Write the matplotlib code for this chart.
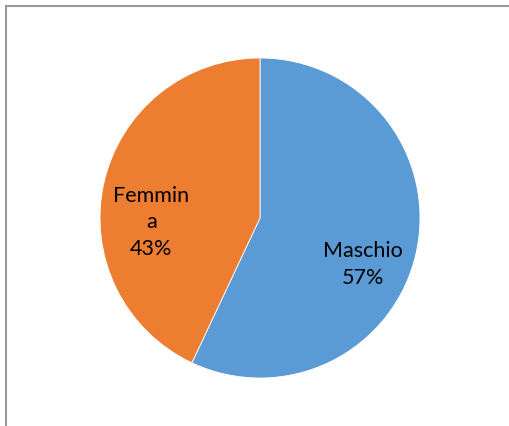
import matplotlib.pyplot as plt
from matplotlib.lines import Line2D

plt.rcParams['font.family'] = ['Lato', 'DejaVu Sans']

categorie = ['Maschio', 'Femmina']
valori = [57, 43]
colori = ['#5B9BD5', '#ED7D31']
etichette = ['Maschio\n57%', 'Femmin\na\n43%']

fig = plt.figure(figsize=(5.1, 4.27), dpi=100)
ax = fig.add_axes([100 / 510, 48 / 427, 320 / 510, 320 / 427])

ax.pie(valori, colors=colori, startangle=90, counterclock=False,
       wedgeprops=dict(edgecolor='white', linewidth=0.6))
ax.set_xlim(-1, 1)
ax.set_ylim(-1, 1)
ax.set_aspect('equal')

# posizioni delle etichette (dati)
ax.text(0.645, -0.285, etichette[0], ha='center', va='center', fontsize=15.5,
        linespacing=1.4, color='black')
ax.text(-0.68, -0.02, etichette[1], ha='center', va='center', fontsize=15.5,
        linespacing=1.4, color='black')

# cornice del grafico
fig.add_artist(Line2D([6.5 / 510, 6.5 / 510], [0, 1 - 6.5 / 427],
                      transform=fig.transFigure, color='#9a9a9a', lw=1.5))
fig.add_artist(Line2D([6.5 / 510, 1], [1 - 6.5 / 427, 1 - 6.5 / 427],
                      transform=fig.transFigure, color='#9a9a9a', lw=1.5))

plt.savefig('out.png', dpi=100)
